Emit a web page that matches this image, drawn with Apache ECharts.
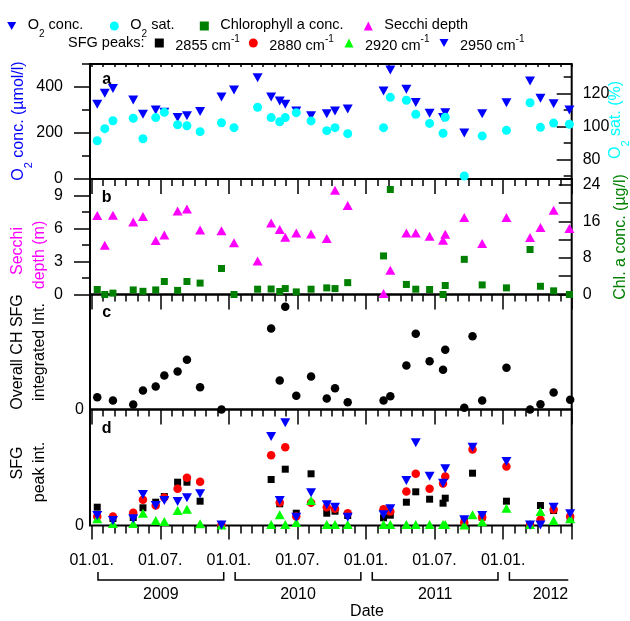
<!DOCTYPE html>
<html>
<head>
<meta charset="utf-8">
<script src="https://cdn.jsdelivr.net/npm/echarts@6/dist/echarts.min.js"></script>
<style>
  html, body { margin: 0; padding: 0; background: #fff; }
  #main { width: 630px; height: 621px; }
</style>
</head>
<body>
<div id="main"></div>
<script>
// panels a and b: water sampling
var abDates = ['2009-01-16','2009-02-05','2009-02-25','2009-04-20','2009-05-16','2009-06-19','2009-07-12','2009-08-17','2009-09-11','2009-10-16',
  '2009-12-12','2010-01-15','2010-03-17','2010-04-22','2010-05-15','2010-05-30','2010-06-28','2010-08-07','2010-09-18','2010-10-10',
  '2010-11-13','2011-02-16','2011-03-05','2011-04-17','2011-05-12','2011-06-18','2011-07-24','2011-07-30','2011-09-19','2011-11-06',
  '2012-01-10','2012-03-12','2012-04-09','2012-05-14','2012-06-25'];
var o2Conc = [325,373,394,343,281,300,290,267,275,293,357,387,440,357,339,325,296,275,284,296,304,383,474,390,333,286,267,288,200,284,332,426,351,327,300];
var o2Sat = [91.5,98.8,103.6,105.1,92.7,105.5,108.7,101.2,100.6,97,102.4,99.4,111.8,105.5,103,105.5,108.5,103.5,97.6,99.4,95.8,99.4,117.8,116,107.5,102,96,105.7,70.1,94.4,97.8,114.5,99.6,102.2,101.5];
var chlA = [1.1,0,0.3,1.0,0.7,1.0,2.85,0.9,2.85,2.5,5.7,0,1.16,1.2,0.66,1.3,0.57,1.16,1.45,1.3,2.6,8.45,23,2.2,1.16,1.1,0,1.97,7.7,2.1,1.45,9.86,1.8,0.8,0];
var secchi = [7.18,4.48,7.2,6.6,7.09,4.9,5.42,7.6,7.78,5.87,5.8,4.7,3.05,6.5,5.9,5.2,5.6,5.5,5.1,9.48,8.1,0.1,2.2,5.6,5.6,5.3,4.94,5.48,7.0,4.64,7.0,5.18,6.1,7.66,6.0];

// panels c and d: SFG spectra
var sfgDates = ['2009-01-16','2009-02-25','2009-04-20','2009-05-16','2009-06-19','2009-07-12','2009-08-17','2009-09-11','2009-10-16','2009-12-12',
  '2010-04-22','2010-05-15','2010-05-30','2010-06-28','2010-08-07','2010-09-18','2010-10-10','2010-11-13','2011-02-16','2011-03-05',
  '2011-04-17','2011-05-12','2011-06-18','2011-07-24','2011-07-30','2011-09-19','2011-10-11','2011-11-06','2012-01-10','2012-03-12',
  '2012-04-09','2012-05-14','2012-06-27'];
var sfgTotal = [0.123,0.09,0.05,0.19,0.23,0.34,0.38,0.497,0.223,0,0.81,0.29,1.027,0.137,0.33,0.11,0.213,0.073,0.09,0.133,0.44,0.757,0.483,0.397,0.597,0.017,0.733,0.09,0.417,0,0.053,0.17,0.097];
var peak2855 = [0.183,0.07,0.08,0.177,0.233,0.29,0.433,0.433,0.243,0.005,0.46,0.217,0.563,0.123,0.517,0.123,0.143,0.1,0.077,0.103,0.233,0.337,0.263,0.223,0.273,0.057,0.523,0.083,0.243,0.005,0.2,0.15,0.08];
var peak2880 = [0.09,0.09,0.127,0.257,0.2,0.28,0.367,0.477,0.437,0.005,0.703,0.23,0.783,0.09,0.227,0.183,0.167,0.123,0.163,0.14,0.34,0.517,0.367,0.42,0.49,0.03,0.76,0.083,0.59,0.005,0.057,0.16,0.09];
var peak2920 = [0.067,0.02,0.02,0.123,0.05,0.04,0.15,0.163,0.017,0.005,0.01,0.107,0.01,0.03,0.25,0.01,0.01,0.01,0.01,0.01,0.01,0.01,0.01,0.01,0.01,0.005,0.107,0.037,0.173,0.01,0.14,0.05,0.067];
var peak2950 = [0.1,0.05,0.067,0.31,0.2,0.25,0.24,0.277,0.317,0.005,0.89,0.25,1.027,0.083,0.327,0.207,0.183,0.083,0.107,0.167,0.45,0.827,0.493,0.423,0.567,0.057,0.783,0.1,0.64,0.005,0.005,0.183,0.117];

// ticks
var dateLabels = ['01.01.', '01.07.'];
var years = ['2009', '2010', '2011', '2012'];
var o2Ticks = [0, 200, 400];
var satTicks = [80, 100, 120];
var secchiTicks = [0, 3, 6, 9];
var chlTicks = [0, 8, 16, 24];

var FONT = 'Liberation Sans';
var DOWN_TRI = 'path://M0,0L10,0L5,9Z';

// x axis in months since 01.01.2009
function toMonth(s) {
  var p = s.split('-').map(Number);
  var dim = new Date(p[0], p[1], 0).getDate();
  return (p[0] - 2009) * 12 + (p[1] - 1) + (p[2] - 1) / dim;
}
function pts(dates, vals) {
  return dates.map(function (d, i) { return [toMonth(d), vals[i]]; });
}

var monthTicks = [];
for (var m = 0; m <= 42; m++) monthTicks.push(m);
var halfYearTicks = [0, 6, 12, 18, 24, 30, 36, 42];

var tickLine = { color: '#000', width: 1.5 };

function xAx(grid, pos, ticks, len, inside, label) {
  return {
    type: 'value', gridIndex: grid, position: pos, min: -0.15, max: 42,
    axisLine: { show: false, onZero: false },
    splitLine: { show: false },
    axisTick: { show: true, inside: inside, length: len, customValues: ticks, lineStyle: tickLine },
    axisLabel: label || { show: false }
  };
}
function yAx(grid, pos, min, max, ticks, len, inside, label) {
  return {
    type: 'value', gridIndex: grid, position: pos, min: min, max: max,
    axisLine: { show: false, onZero: false },
    splitLine: { show: false },
    axisTick: ticks ? { show: true, inside: inside, length: len, customValues: ticks, lineStyle: tickLine } : { show: false },
    axisLabel: label || { show: false }
  };
}
function lbl(margin, vals) {
  return { show: true, customValues: vals, margin: margin, fontSize: 16, color: '#000', fontFamily: FONT };
}

var grids = [
  { top: 64, height: 115 },
  { top: 179, height: 115.5 },
  { top: 294.5, height: 115 },
  { top: 409.5, height: 116 }
].map(function (g) {
  return { left: 90, width: 481.7, top: g.top, height: g.height, show: true,
    borderColor: '#000', borderWidth: 2, backgroundColor: 'transparent', outerBoundsMode: 'none' };
});

var xAxes = [
  xAx(0, 'top', monthTicks, 3, true),
  xAx(1, 'top', monthTicks, 7, true),
  xAx(1, 'top', halfYearTicks, 15, true),
  xAx(2, 'top', monthTicks, 7, true),
  xAx(2, 'top', halfYearTicks, 15, true),
  xAx(3, 'top', monthTicks, 7, true),
  xAx(3, 'top', halfYearTicks, 15, true),
  xAx(3, 'bottom', monthTicks, 8, false),
  xAx(3, 'bottom', halfYearTicks, 14, false, {
    show: true, customValues: [0, 6, 12, 18, 24, 30, 36], margin: 27, fontSize: 16, color: '#000', fontFamily: FONT,
    formatter: function (v) { return dateLabels[Math.round(v) % 12 === 0 ? 0 : 1]; }
  })
];

var yAxes = [
  yAx(0, 'left', 0, 500, [100, 300, 500], 8, false),
  yAx(0, 'left', 0, 500, o2Ticks, 16, false, lbl(27, o2Ticks)),
  yAx(0, 'right', 68.3, 138, [70, 90, 110, 130], 8, true),
  yAx(0, 'right', 68.3, 138, satTicks, 15, true, lbl(11, satTicks)),
  yAx(1, 'left', 0, 10.5, [1.5, 4.5, 7.5, 10.5], 8, false),
  yAx(1, 'left', 0, 10.5, secchiTicks, 16, false, lbl(27, secchiTicks)),
  yAx(1, 'right', 0, 25.3, [4, 12, 20], 13, true),
  yAx(1, 'right', 0, 25.3, chlTicks, 13, true, lbl(11, chlTicks)),
  yAx(2, 'left', 0, 1.15, null, 0, false, lbl(6, [0])),
  yAx(3, 'left', 0, 1.16, null, 0, false, lbl(6, [0]))
];

function scatter(name, xi, yi, data, symbol, size, color) {
  return {
    type: 'scatter', name: name, xAxisIndex: xi, yAxisIndex: yi, data: data,
    symbol: symbol, symbolSize: size,
    itemStyle: { color: color, opacity: 1 }, silent: true
  };
}

var series = [
  scatter('O2 conc.', 0, 1, pts(abDates, o2Conc), DOWN_TRI, [10, 9], '#0000ff'),
  scatter('O2 sat.', 0, 3, pts(abDates, o2Sat), 'circle', 9, '#00ffff'),
  scatter('Chlorophyll a conc.', 1, 7, pts(abDates, chlA), 'rect', 7, '#008000'),
  scatter('Secchi depth', 1, 5, pts(abDates, secchi), 'triangle', [10, 9], '#ff00ff'),
  scatter('SFG total', 3, 8, pts(sfgDates, sfgTotal), 'circle', 8.5, '#000000'),
  scatter('2855 cm-1', 5, 9, pts(sfgDates, peak2855), 'rect', 7, '#000000'),
  scatter('2880 cm-1', 5, 9, pts(sfgDates, peak2880), 'circle', 8.5, '#ff0000'),
  scatter('2920 cm-1', 5, 9, pts(sfgDates, peak2920), 'triangle', [10, 9], '#00ff00'),
  scatter('2950 cm-1', 5, 9, pts(sfgDates, peak2950), DOWN_TRI, [10, 9], '#0000ff')
];

// legend text with sub/superscripts
var legendText = {
  'O2 conc.': '{t|O}{sub|2}{t| conc.}',
  'O2 sat.': '{t|O}{sub|2}{t| sat.}',
  'Chlorophyll a conc.': '{t|Chlorophyll a conc.}',
  'Secchi depth': '{t|Secchi depth}',
  '2855 cm-1': '{u|2855 cm}{sup|-1}',
  '2880 cm-1': '{u|2880 cm}{sup|-1}',
  '2920 cm-1': '{u|2920 cm}{sup|-1}',
  '2950 cm-1': '{u|2950 cm}{sup|-1}'
};
var legendRich = {
  t: { fontSize: 14.5, lineHeight: 18, verticalAlign: 'top', color: '#000', fontFamily: FONT },
  sub: { fontSize: 10, lineHeight: 10, verticalAlign: 'top', padding: [12, 0, 0, 0], color: '#000', fontFamily: FONT },
  u: { fontSize: 14.5, lineHeight: 18, verticalAlign: 'top', padding: [4, 0, 0, 0], color: '#000', fontFamily: FONT },
  sup: { fontSize: 10, lineHeight: 10, verticalAlign: 'top', color: '#000', fontFamily: FONT }
};
function legendItem(name, iconX, top) {
  return {
    data: [name], left: iconX - 4.5, top: top, padding: 0, itemWidth: 9, itemHeight: 9,
    selectedMode: false,
    formatter: function (n) { return legendText[n]; },
    textStyle: { rich: legendRich, padding: [0, 0, 0, 6.5] }
  };
}
var legends = [
  legendItem('O2 conc.', 11.7, 17),
  legendItem('O2 sat.', 114.3, 17),
  legendItem('Chlorophyll a conc.', 204.3, 17),
  legendItem('Secchi depth', 368.3, 17),
  legendItem('2855 cm-1', 159.3, 34),
  legendItem('2880 cm-1', 253.3, 34),
  legendItem('2920 cm-1', 349, 34),
  legendItem('2950 cm-1', 444, 34)
];

var nameRich = {
  t: { fontSize: 16, lineHeight: 18, verticalAlign: 'top' },
  sub: { fontSize: 11, lineHeight: 11, verticalAlign: 'top', padding: [12, 0, 0, 0] }
};
function vText(text, x, y, color, rich) {
  return {
    type: 'text', x: x, y: y, rotation: Math.PI / 2, silent: true,
    style: { text: text, fill: color, fontSize: 16, fontFamily: FONT, align: 'center', verticalAlign: 'middle', rich: rich }
  };
}
function hText(text, x, y, opts) {
  var st = { text: text, fill: '#000', fontSize: 16, fontFamily: FONT, align: 'center', verticalAlign: 'middle' };
  for (var k in opts) st[k] = opts[k];
  return { type: 'text', x: x, y: y, silent: true, style: st };
}

var graphics = [
  hText('SFG peaks:', 68, 42.7, { fontSize: 14.5, align: 'left' }),
  hText('a', 106.7, 80, { fontWeight: 'bold' }),
  hText('b', 106.7, 198, { fontWeight: 'bold' }),
  hText('c', 106.7, 313, { fontWeight: 'bold' }),
  hText('d', 106.7, 429, { fontWeight: 'bold' }),
  vText('{t|O}{sub|2}{t| conc. (µmol/l)}', 20, 121, '#0000ff', nameRich),
  vText('Secchi', 17.5, 251, '#ff00ff'),
  vText('depth (m)', 39.5, 255, '#ff00ff'),
  vText('Overall CH SFG', 18, 352, '#000'),
  vText('integrated Int.', 40, 352, '#000'),
  vText('SFG', 18, 463, '#000'),
  vText('peak int.', 40, 472, '#000'),
  vText('{t|O}{sub|2}{t| sat. (%)}', 617, 120, '#00ffff', nameRich),
  vText('Chl. a conc. (µg/l)', 621, 237, '#008000'),
  hText('Date', 367, 612)
];

var chart = echarts.init(document.getElementById('main'), null, { renderer: 'canvas' });
chart.setOption({
  animation: false,
  textStyle: { fontFamily: FONT },
  grid: grids,
  xAxis: xAxes,
  yAxis: yAxes,
  legend: legends,
  series: series,
  graphic: graphics
});

// year brackets under the date axis
var extra = [];
years.forEach(function (yr, i) {
  var m0 = i * 12 + 0.55, m1 = i * 12 + 11.55;
  var full = m1 <= 42;
  var a = chart.convertToPixel({ xAxisIndex: 8 }, m0);
  var b = chart.convertToPixel({ xAxisIndex: 8 }, Math.min(m1, 41.7));
  var line = full ? [[a, 572], [a, 580], [b, 580], [b, 572]] : [[a, 572], [a, 580], [b, 580]];
  extra.push({ type: 'polyline', silent: true, shape: { points: line }, style: { stroke: '#000', lineWidth: 1.5, fill: null } });
  extra.push(hText(yr, full ? (a + b) / 2 : b, 595, { align: full ? 'center' : 'right' }));
});
chart.setOption({ graphic: graphics.concat(extra) });
</script>
</body>
</html>
